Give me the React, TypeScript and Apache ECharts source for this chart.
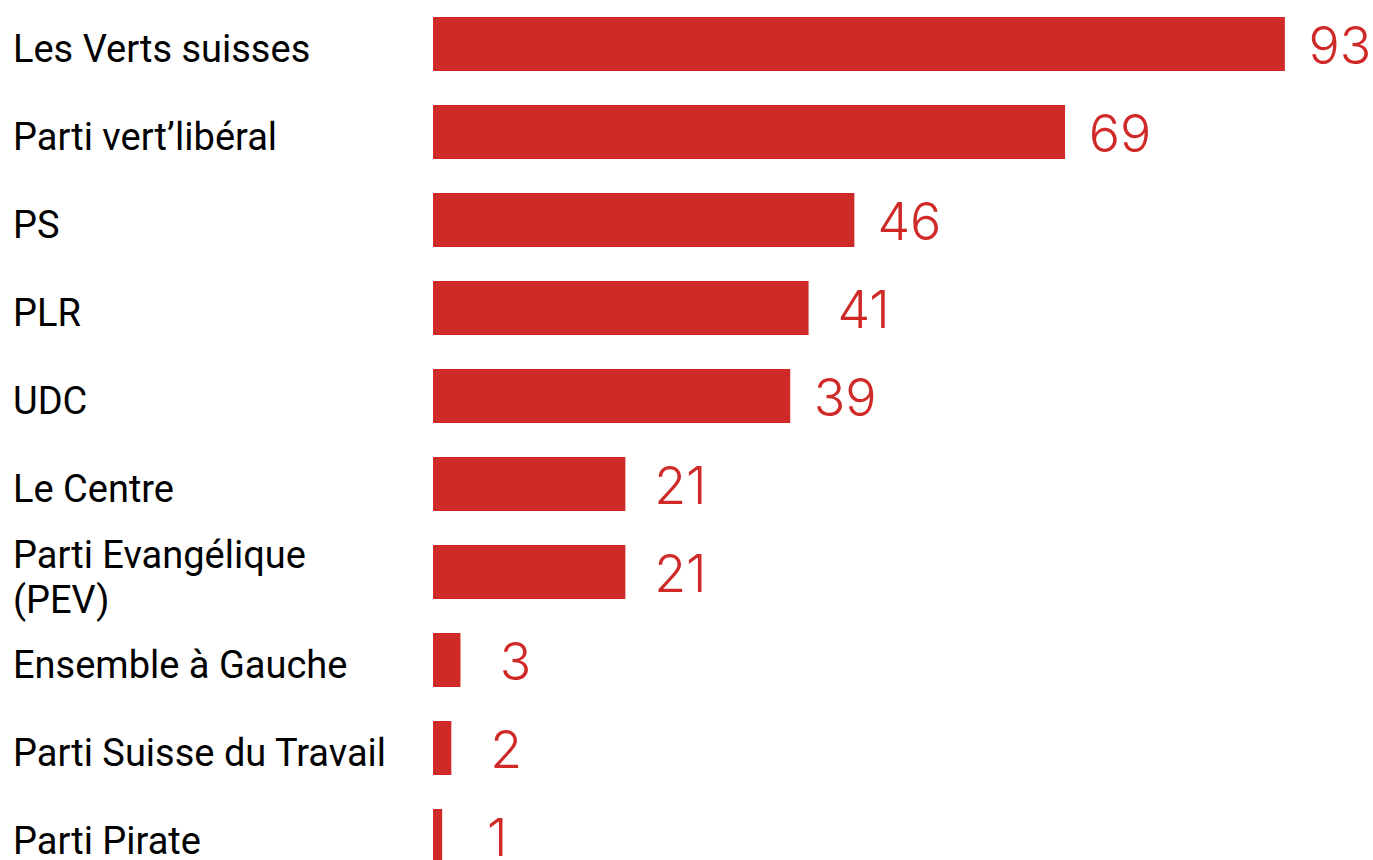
import React, { useEffect, useRef } from "react";
import * as echarts from "echarts";

const categories = [
  "Les Verts suisses",
  "Parti vert’libéral",
  "PS",
  "PLR",
  "UDC",
  "Le Centre",
  "Parti Evangélique\n(PEV)",
  "Ensemble à Gauche",
  "Parti Suisse du Travail",
  "Parti Pirate",
];
const values = [93, 69, 46, 41, 39, 21, 21, 3, 2, 1];

const RED = "#D02A28";

export default function App() {
  const ref = useRef<HTMLDivElement>(null);
  useEffect(() => {
    if (!ref.current) return;
    const chart = echarts.init(ref.current, undefined, { renderer: "svg" });
    chart.setOption({
      animation: false,
      grid: { left: 433, top: 0, width: 916, height: 880, containLabel: false },
      xAxis: { type: "value", min: 0, max: 100, show: false },
      yAxis: {
        type: "category",
        data: categories,
        inverse: true,
        axisLine: { show: false },
        axisTick: { show: false },
        axisLabel: {
          align: "left",
          margin: 420,
          color: "#000",
          fontFamily: "Roboto",
          fontSize: 38,
          lineHeight: 45,
          formatter: (v: string) =>
            "{s|}\n" +
            v
              .split("\n")
              .map((l) => `{a|${l}}`)
              .join("\n"),
          rich: {
            a: {
              fontFamily: "Roboto",
              fontSize: 38,
              lineHeight: 45,
              color: "#000",
            },
            s: { fontSize: 1, lineHeight: 10 },
          },
        },
      },
      series: [
        {
          type: "bar",
          data: values,
          barWidth: 54,
          itemStyle: { color: RED },
          label: {
            show: true,
            position: ["100%", "50%"],
            offset: [55, 1],
            align: "center",
            verticalAlign: "middle",
            color: RED,
            fontFamily: "Inter",
            fontWeight: 300,
            fontSize: 52,
          },
        },
      ],
    });
    return () => chart.dispose();
  }, []);
  return (
    <div
      ref={ref}
      style={{ position: "absolute", left: 0, top: 0, width: 1373, height: 880 }}
    />
  );
}
